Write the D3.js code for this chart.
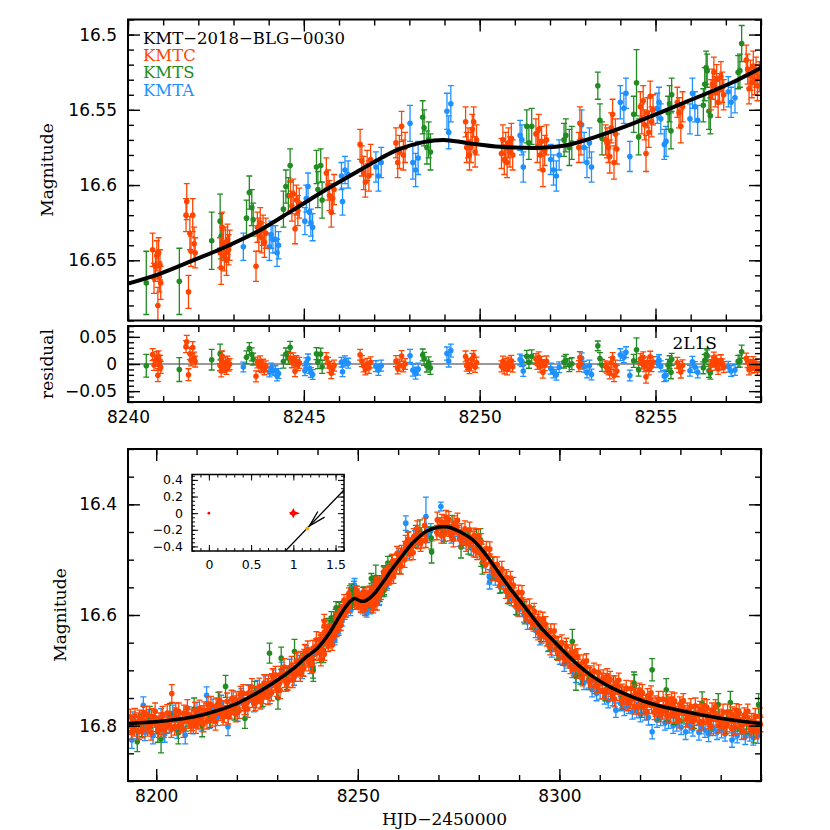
<!DOCTYPE html>
<html><head><meta charset="utf-8">
<script src="https://cdn.jsdelivr.net/npm/d3@7"></script>
<style>body{margin:0;background:#fff}</style>
</head><body>
<svg id="c" width="830" height="830" xmlns="http://www.w3.org/2000/svg"></svg>
<script>
// ---------------- DATA ----------------
const eventName = "KMT\u22122018\u2212BLG\u22120030";
const seriesNames = ["KMTC", "KMTS", "KMTA"];
const modelName = "2L1S";

const modelTop = [[8240,16.6655],[8240.9,16.659],[8241.9,16.6496],[8242.8,16.6408],[8243.75,16.630],[8244.7,16.6165],[8245.65,16.6028],[8246.6,16.590],[8247.2,16.582],[8247.73,16.576],[8248.4,16.5715],[8248.97,16.570],[8249.63,16.572],[8250.58,16.5746],[8251.2,16.5752],[8251.71,16.5752],[8252.47,16.5735],[8253.42,16.567],[8254.37,16.559],[8255.32,16.550],[8256.26,16.541],[8257.21,16.5315],[8258,16.522]];
const modelBot = [[8193,16.796],[8200,16.793],[8205,16.789],[8210,16.783],[8215,16.773],[8220,16.760],[8225,16.741],[8230,16.718],[8234,16.697],[8237,16.677],[8240,16.660],[8243,16.632],[8246,16.596],[8248,16.576],[8249.2,16.570],[8250.5,16.5745],[8251.7,16.575],[8253,16.569],[8254.5,16.558],[8256,16.543],[8257,16.533],[8258,16.522],[8260.3,16.500],[8263.6,16.470],[8266.9,16.449],[8270.2,16.441],[8272.3,16.441],[8275.2,16.449],[8278.5,16.464],[8281.8,16.4915],[8285.1,16.525],[8288.4,16.558],[8291.7,16.588],[8295,16.619],[8298.3,16.645],[8304.1,16.687],[8308.2,16.711],[8312.3,16.729],[8316.4,16.743],[8320.6,16.755],[8324.7,16.764],[8332.9,16.777],[8341.2,16.788],[8350,16.796]];

// KMTC  [HJD', mag, err]
const kmtcEarly = [[8193.58,16.784,.014],[8193.72,16.801,.015],[8193.86,16.811,.014],[8194.58,16.805,.014],[8194.72,16.782,.013],[8194.86,16.798,.015],[8195.58,16.792,.015],[8195.72,16.811,.014],[8195.86,16.786,.014],[8196.58,16.808,.014],[8196.72,16.788,.015],[8196.86,16.778,.013],[8197.58,16.779,.014],[8197.72,16.797,.014],[8197.86,16.804,.015],[8198.58,16.800,.015],[8198.72,16.812,.014],[8198.86,16.783,.014],[8199.58,16.785,.013],[8199.72,16.774,.015],[8199.86,16.797,.014],[8200.58,16.807,.014],[8200.72,16.791,.014],[8200.86,16.801,.015],[8201.58,16.780,.015],[8201.72,16.797,.014],[8201.86,16.807,.014],[8202.58,16.800,.014],[8202.72,16.777,.015],[8202.86,16.793,.013],[8203.58,16.788,.014],[8203.72,16.807,.014],[8203.86,16.742,.016],[8204.58,16.803,.014],[8204.72,16.783,.015],[8204.86,16.773,.014],[8205.58,16.774,.015],[8205.72,16.792,.014],[8205.86,16.799,.014],[8206.58,16.794,.014],[8206.72,16.806,.015],[8206.86,16.777,.014],[8207.58,16.779,.013],[8207.72,16.768,.015],[8207.86,16.791,.014],[8208.58,16.800,.014],[8208.72,16.784,.014],[8208.86,16.794,.015],[8209.58,16.773,.015],[8209.72,16.790,.014],[8209.86,16.800,.014],[8210.58,16.792,.014],[8210.72,16.769,.015],[8210.86,16.785,.013],[8211.58,16.778,.014],[8211.72,16.797,.014],[8211.86,16.772,.015],[8212.58,16.792,.014],[8212.72,16.772,.015],[8212.86,16.762,.014],[8213.58,16.762,.015],[8213.72,16.780,.014],[8213.86,16.787,.014],[8214.58,16.781,.014],[8214.72,16.793,.015],[8214.86,16.764,.014],[8215.58,16.765,.013],[8215.72,16.754,.015],[8215.86,16.777,.014],[8216.58,16.785,.014],[8216.72,16.769,.014],[8216.86,16.779,.015],[8217.58,16.756,.015],[8217.72,16.773,.014],[8217.86,16.783,.014],[8218.58,16.774,.014],[8218.72,16.751,.015],[8218.86,16.767,.013],[8219.58,16.760,.014],[8219.72,16.779,.014],[8219.86,16.754,.015],[8220.58,16.773,.014],[8220.72,16.753,.015],[8220.86,16.743,.014],[8221.58,16.741,.015],[8221.72,16.759,.014],[8221.86,16.766,.014],[8222.58,16.758,.014],[8222.72,16.770,.015],[8222.86,16.741,.014],[8223.58,16.741,.013],[8223.72,16.730,.015],[8223.86,16.753,.014],[8224.58,16.759,.014],[8224.72,16.743,.014],[8224.86,16.753,.015],[8225.58,16.729,.015],[8225.72,16.746,.014],[8225.86,16.756,.014],[8226.58,16.746,.014],[8226.72,16.723,.015],[8226.86,16.739,.013],[8227.58,16.729,.014],[8227.72,16.748,.014],[8227.86,16.723,.015],[8228.58,16.741,.014],[8228.72,16.721,.015],[8228.86,16.711,.014],[8229.58,16.708,.015],[8229.72,16.726,.014],[8229.86,16.733,.014],[8230.58,16.724,.014],[8230.72,16.736,.015],[8230.86,16.707,.014],[8231.58,16.705,.013],[8231.72,16.694,.015],[8231.86,16.717,.014],[8232.58,16.722,.014],[8232.72,16.706,.014],[8232.86,16.716,.015],[8233.58,16.690,.015],[8233.72,16.707,.014],[8233.86,16.717,.014],[8234.58,16.706,.014],[8234.72,16.683,.015],[8234.86,16.699,.013],[8235.58,16.687,.014],[8235.72,16.706,.014],[8235.86,16.681,.015],[8236.58,16.697,.014],[8236.72,16.677,.015],[8236.86,16.667,.014],[8237.58,16.662,.015],[8237.72,16.680,.014],[8237.86,16.687,.014],[8238.58,16.677,.014],[8238.72,16.689,.015],[8238.86,16.660,.014],[8239.58,16.656,.013],[8239.72,16.645,.015],[8239.86,16.668,.014]];
const kmtcAnom = [[8240.70,16.643,.011],[8240.74,16.662,.010],[8240.78,16.654,.010],[8240.82,16.647,.010],[8240.85,16.680,.012],[8240.87,16.645,.010],[8240.89,16.661,.010],[8240.91,16.653,.010],[8240.93,16.665,.011],[8241.65,16.620,.011],[8241.67,16.611,.012],[8241.72,16.671,.011],[8241.76,16.632,.011],[8241.79,16.644,.010],[8241.84,16.620,.011],[8241.88,16.639,.011],[8241.91,16.645,.010],[8242.62,16.645,.010],[8242.65,16.655,.011],[8242.68,16.628,.010],[8242.71,16.640,.010],[8242.74,16.647,.010],[8242.77,16.638,.010],[8242.80,16.650,.010],[8242.83,16.636,.010],[8242.86,16.643,.010],[8242.89,16.640,.010],[8243.64,16.654,.010],[8243.68,16.628,.010],[8243.72,16.633,.011],[8243.76,16.625,.010],[8243.80,16.635,.010],[8243.84,16.630,.010],[8243.88,16.638,.010],[8243.92,16.632,.010],[8244.62,16.607,.010],[8244.66,16.614,.010],[8244.70,16.606,.010],[8244.75,16.629,.010],[8244.79,16.610,.010],[8244.83,16.617,.010],[8244.87,16.612,.010],[8245.64,16.592,.010],[8245.69,16.600,.010],[8245.73,16.607,.010],[8245.78,16.618,.010],[8245.82,16.609,.010],[8245.86,16.603,.010],[8246.60,16.573,.010],[8246.65,16.584,.010],[8246.70,16.592,.011],[8246.75,16.598,.010],[8246.80,16.587,.010],[8246.85,16.594,.010],[8246.90,16.583,.010],[8247.62,16.572,.010],[8247.67,16.585,.010],[8247.72,16.578,.011],[8247.78,16.561,.010],[8247.83,16.580,.010],[8247.88,16.575,.010],[8249.60,16.558,.010],[8249.63,16.575,.010],[8249.67,16.572,.010],[8249.71,16.580,.010],[8249.75,16.575,.010],[8249.79,16.563,.010],[8249.83,16.558,.010],[8249.87,16.578,.010],[8249.91,16.570,.010],[8250.62,16.579,.010],[8250.66,16.570,.010],[8250.70,16.583,.010],[8250.74,16.575,.010],[8250.78,16.585,.010],[8250.82,16.572,.010],[8250.86,16.578,.010],[8250.90,16.569,.010],[8250.94,16.580,.010],[8251.60,16.566,.010],[8251.64,16.575,.010],[8251.68,16.563,.010],[8251.72,16.580,.010],[8251.76,16.571,.010],[8251.80,16.590,.011],[8251.85,16.577,.010],[8251.90,16.570,.010],[8252.82,16.575,.010],[8252.85,16.559,.011],[8252.88,16.570,.010],[8253.58,16.570,.010],[8253.62,16.572,.010],[8253.66,16.575,.010],[8253.70,16.581,.011],[8253.74,16.562,.010],[8253.78,16.553,.010],[8253.82,16.585,.011],[8253.86,16.566,.010],[8253.90,16.576,.010],[8254.57,16.548,.010],[8254.61,16.556,.010],[8254.65,16.544,.010],[8254.69,16.560,.010],[8254.73,16.579,.012],[8254.77,16.552,.010],[8254.81,16.565,.010],[8254.85,16.541,.010],[8254.89,16.558,.010],[8254.93,16.550,.010],[8255.62,16.545,.010],[8255.67,16.552,.010],[8255.72,16.561,.011],[8255.77,16.548,.010],[8256.58,16.540,.010],[8256.62,16.533,.010],[8256.66,16.525,.010],[8256.70,16.538,.010],[8256.74,16.530,.010],[8256.78,16.545,.010],[8256.82,16.536,.010],[8256.86,16.528,.010],[8256.90,16.535,.010],[8256.94,16.540,.010],[8257.58,16.517,.010],[8257.62,16.523,.010],[8257.66,16.536,.010],[8257.70,16.527,.010],[8257.74,16.532,.010],[8257.78,16.521,.010],[8257.82,16.530,.010],[8257.86,16.525,.010],[8257.90,16.534,.010],[8257.95,16.528,.010]];
const kmtcLate = [[8258.58,16.503,.013],[8258.72,16.520,.014],[8258.86,16.530,.013],[8259.58,16.512,.014],[8259.72,16.489,.013],[8259.86,16.505,.014],[8260.58,16.493,.013],[8260.72,16.512,.014],[8260.86,16.487,.013],[8261.58,16.500,.014],[8261.72,16.480,.013],[8261.86,16.470,.014],[8262.58,16.463,.013],[8262.72,16.481,.014],[8262.86,16.488,.013],[8263.58,16.475,.014],[8263.72,16.487,.013],[8263.86,16.458,.014],[8264.58,16.455,.013],[8264.72,16.444,.014],[8264.86,16.467,.013],[8265.58,16.471,.014],[8265.72,16.455,.013],[8265.86,16.465,.014],[8266.58,16.438,.013],[8266.72,16.455,.014],[8266.86,16.465,.013],[8269.58,16.451,.013],[8269.72,16.428,.014],[8269.86,16.444,.013],[8270.58,16.438,.014],[8270.72,16.457,.013],[8270.86,16.432,.014],[8271.58,16.454,.013],[8271.72,16.434,.014],[8271.86,16.424,.013],[8272.58,16.427,.014],[8272.72,16.445,.013],[8272.86,16.452,.014],[8273.58,16.451,.013],[8273.72,16.463,.014],[8273.86,16.434,.013],[8274.58,16.440,.014],[8274.72,16.429,.013],[8274.86,16.452,.014],[8275.58,16.465,.013],[8275.72,16.449,.014],[8275.86,16.459,.013],[8276.58,16.444,.014],[8276.72,16.461,.013],[8276.86,16.471,.014],[8277.58,16.469,.013],[8277.72,16.446,.014],[8277.86,16.462,.013],[8278.58,16.463,.014],[8278.72,16.482,.013],[8278.86,16.457,.014],[8279.58,16.487,.013],[8279.72,16.467,.014],[8279.86,16.457,.013],[8280.58,16.467,.014],[8280.72,16.485,.013],[8280.86,16.492,.014],[8281.58,16.497,.013],[8281.72,16.509,.014],[8281.86,16.480,.013],[8282.58,16.492,.014],[8282.72,16.481,.013],[8282.86,16.504,.014],[8283.58,16.525,.013],[8283.72,16.509,.014],[8283.86,16.519,.013],[8284.58,16.509,.014],[8284.72,16.526,.013],[8284.86,16.536,.014],[8285.58,16.540,.013],[8285.72,16.517,.014],[8285.86,16.533,.013],[8286.58,16.538,.014],[8286.72,16.557,.013],[8286.86,16.532,.014],[8287.58,16.564,.013],[8287.72,16.544,.014],[8287.86,16.534,.013],[8288.58,16.546,.014],[8288.72,16.564,.013],[8288.86,16.571,.014],[8289.58,16.576,.013],[8289.72,16.588,.014],[8289.86,16.559,.013],[8290.58,16.571,.014],[8290.72,16.560,.013],[8290.86,16.583,.014],[8291.58,16.602,.013],[8291.72,16.586,.014],[8291.86,16.596,.013],[8292.58,16.585,.014],[8292.72,16.602,.013],[8292.86,16.612,.014],[8293.58,16.616,.013],[8293.72,16.593,.014],[8293.86,16.609,.013],[8294.58,16.613,.014],[8294.72,16.632,.013],[8294.86,16.607,.014],[8295.58,16.638,.013],[8295.72,16.618,.014],[8295.86,16.608,.013],[8296.58,16.617,.014],[8296.72,16.635,.013],[8296.86,16.642,.014],[8297.58,16.646,.013],[8297.72,16.658,.014],[8297.86,16.629,.013],[8298.58,16.640,.014],[8298.72,16.629,.013],[8298.86,16.652,.014],[8299.58,16.669,.013],[8299.72,16.653,.014],[8299.86,16.663,.013],[8300.58,16.650,.014],[8300.72,16.667,.013],[8300.86,16.677,.014],[8301.58,16.679,.013],[8301.72,16.656,.014],[8301.86,16.672,.013],[8302.58,16.674,.014],[8302.72,16.693,.013],[8302.86,16.668,.014],[8303.58,16.697,.013],[8303.72,16.677,.014],[8303.86,16.667,.013],[8304.58,16.675,.014],[8304.72,16.693,.013],[8304.86,16.700,.014],[8305.58,16.702,.013],[8305.72,16.714,.014],[8305.86,16.685,.013],[8306.58,16.694,.014],[8306.72,16.683,.013],[8306.86,16.706,.014],[8307.58,16.722,.013],[8307.72,16.706,.014],[8307.86,16.716,.013],[8308.58,16.701,.014],[8308.72,16.718,.013],[8308.86,16.728,.014],[8309.58,16.727,.013],[8309.72,16.704,.014],[8309.86,16.720,.013],[8310.58,16.719,.014],[8310.72,16.738,.013],[8310.86,16.713,.014],[8311.58,16.740,.013],[8311.72,16.720,.014],[8311.86,16.710,.013],[8312.58,16.716,.014],[8312.72,16.734,.013],[8312.86,16.741,.014],[8313.58,16.740,.013],[8313.72,16.752,.014],[8313.86,16.723,.013],[8314.58,16.729,.014],[8314.72,16.718,.013],[8314.86,16.741,.014],[8315.58,16.755,.013],[8315.72,16.739,.014],[8315.86,16.749,.013],[8316.58,16.732,.014],[8316.72,16.749,.013],[8316.86,16.759,.014],[8317.58,16.756,.013],[8317.72,16.733,.014],[8317.86,16.749,.013],[8318.58,16.747,.014],[8318.72,16.766,.013],[8318.86,16.741,.014],[8319.58,16.766,.013],[8319.72,16.746,.014],[8319.86,16.736,.013],[8320.58,16.740,.014],[8320.72,16.758,.013],[8320.86,16.765,.014],[8321.58,16.763,.013],[8321.72,16.775,.014],[8321.86,16.746,.013],[8322.58,16.752,.014],[8322.72,16.741,.013],[8322.86,16.764,.014],[8323.58,16.776,.013],[8323.72,16.760,.014],[8323.86,16.770,.013],[8324.58,16.752,.014],[8324.72,16.769,.013],[8324.86,16.779,.014],[8325.58,16.775,.013],[8325.72,16.752,.014],[8325.86,16.768,.013],[8326.58,16.764,.014],[8326.72,16.783,.013],[8326.86,16.758,.014],[8327.58,16.782,.013],[8327.72,16.762,.014],[8327.86,16.752,.013],[8328.58,16.755,.014],[8328.72,16.773,.013],[8328.86,16.780,.014],[8329.58,16.778,.013],[8329.72,16.790,.014],[8329.86,16.761,.013],[8330.58,16.766,.014],[8330.72,16.755,.013],[8330.86,16.778,.014],[8331.58,16.789,.013],[8331.72,16.773,.014],[8331.86,16.783,.013],[8332.58,16.765,.014],[8332.72,16.782,.013],[8332.86,16.792,.014],[8333.58,16.787,.013],[8333.72,16.764,.014],[8333.86,16.780,.013],[8334.58,16.776,.014],[8334.72,16.795,.013],[8334.86,16.770,.014],[8335.58,16.794,.013],[8335.72,16.774,.014],[8335.86,16.764,.013],[8336.58,16.767,.014],[8336.72,16.785,.013],[8336.86,16.792,.014],[8337.58,16.789,.013],[8337.72,16.801,.014],[8337.86,16.772,.013],[8338.58,16.777,.014],[8338.72,16.766,.013],[8338.86,16.789,.014],[8339.58,16.800,.013],[8339.72,16.784,.014],[8339.86,16.794,.013],[8340.58,16.775,.014],[8340.72,16.792,.013],[8340.86,16.802,.014],[8341.58,16.798,.013],[8341.72,16.775,.014],[8341.86,16.791,.013],[8342.58,16.786,.014],[8342.72,16.805,.013],[8342.86,16.780,.014],[8343.58,16.803,.013],[8343.72,16.783,.014],[8343.86,16.773,.013],[8344.58,16.776,.014],[8344.72,16.794,.013],[8344.86,16.801,.014],[8345.58,16.798,.013],[8345.72,16.810,.014],[8345.86,16.781,.013],[8346.58,16.785,.014],[8346.72,16.774,.013],[8346.86,16.797,.014],[8347.58,16.808,.013],[8347.72,16.792,.014],[8347.86,16.802,.013],[8348.58,16.783,.014],[8348.72,16.800,.013],[8348.86,16.810,.014],[8349.58,16.805,.013],[8349.72,16.782,.014],[8349.86,16.798,.013]];

// KMTS
const kmtsEarly = [[8195.3,16.829,.018],[8196.4,16.800,.020],[8198.4,16.785,.020],[8200.4,16.810,.020],[8201.2,16.824,.025],[8203.4,16.780,.020],[8205.5,16.813,.020],[8207.4,16.790,.020],[8209.4,16.770,.020],[8211.4,16.800,.020],[8213.4,16.783,.020],[8215.4,16.760,.020],[8217.2,16.729,.020],[8219.4,16.770,.020],[8222.0,16.787,.018],[8224.4,16.740,.020],[8226.4,16.745,.020],[8228.1,16.669,.018],[8230.2,16.750,.020],[8231.0,16.678,.020],[8232.4,16.715,.020],[8234.3,16.666,.022],[8236.4,16.690,.020],[8238.9,16.694,.020],[8238.95,16.700,.020]];
const kmtsAnom = [[8240.52,16.665,.021],[8241.46,16.664,.022],[8242.38,16.637,.019],[8242.62,16.624,.018],[8242.65,16.634,.015],[8243.37,16.622,.012],[8243.45,16.605,.011],[8243.52,16.615,.012],[8243.56,16.623,.011],[8244.42,16.616,.012],[8244.49,16.601,.011],[8244.56,16.607,.012],[8244.61,16.587,.011],[8245.36,16.588,.011],[8245.40,16.603,.012],[8245.48,16.587,.011],[8245.52,16.610,.012],[8248.38,16.555,.011],[8248.42,16.562,.012],[8248.50,16.575,.011],[8248.55,16.570,.012],[8248.60,16.578,.012],[8251.34,16.561,.011],[8251.40,16.572,.011],[8251.48,16.561,.012],[8252.40,16.570,.011],[8252.45,16.567,.011],[8252.55,16.575,.012],[8252.62,16.572,.011],[8253.36,16.534,.009],[8253.42,16.557,.011],[8253.48,16.569,.011],[8254.38,16.553,.012],[8254.46,16.532,.022],[8254.52,16.568,.012],[8255.36,16.552,.011],[8255.40,16.546,.012],[8255.44,16.564,.012],[8255.46,16.540,.011],[8256.36,16.547,.011],[8256.40,16.533,.011],[8256.44,16.522,.011],[8256.47,16.524,.011],[8256.52,16.551,.012],[8256.56,16.554,.012],[8257.35,16.525,.011],[8257.40,16.524,.011],[8257.45,16.506,.012]];
const kmtsLate = [[8258.4,16.512,.020],[8260.4,16.505,.020],[8262.4,16.470,.020],[8264.4,16.458,.020],[8265.4,16.448,.020],[8268.2,16.461,.020],[8268.3,16.486,.020],[8271.4,16.450,.020],[8273.4,16.440,.020],[8275.6,16.477,.020],[8277.4,16.470,.020],[8279.4,16.465,.020],[8280.4,16.464,.020],[8280.6,16.492,.020],[8280.9,16.506,.020],[8283.4,16.515,.020],[8285.4,16.540,.020],[8287.4,16.560,.020],[8289.4,16.580,.020],[8291.4,16.596,.020],[8293.4,16.605,.020],[8295.4,16.628,.020],[8297.4,16.645,.020],[8299.4,16.660,.020],[8301.4,16.668,.020],[8303.2,16.648,.022],[8304.1,16.711,.025],[8305.4,16.705,.020],[8307.4,16.715,.020],[8309.4,16.720,.020],[8311.4,16.735,.020],[8313.4,16.730,.020],[8315.4,16.750,.020],[8318.5,16.723,.020],[8318.6,16.728,.020],[8320.4,16.765,.020],[8323.0,16.699,.020],[8324.4,16.770,.020],[8326.5,16.735,.020],[8326.6,16.772,.020],[8328.4,16.778,.020],[8330.4,16.775,.020],[8333.4,16.785,.020],[8335.4,16.759,.020],[8337.4,16.790,.020],[8339.4,16.762,.020],[8341.4,16.795,.020],[8342.4,16.758,.020],[8344.4,16.790,.020],[8346.4,16.795,.020],[8348.2,16.811,.020],[8349.4,16.762,.020]];

// KMTA
const kmtaEarly = [[8193.95,16.826,.015],[8194.2,16.790,.015],[8195.1,16.808,.016],[8196.8,16.763,.015],[8197.2,16.812,.015],[8198.1,16.787,.016],[8199.2,16.818,.015],[8200.1,16.800,.015],[8201.2,16.785,.016],[8202.1,16.815,.015],[8203.2,16.798,.015],[8204.1,16.779,.016],[8205.2,16.808,.015],[8206.1,16.795,.015],[8207.2,16.817,.016],[8208.1,16.781,.015],[8209.2,16.800,.015],[8210.1,16.774,.016],[8211.2,16.795,.015],[8212.5,16.745,.015],[8213.2,16.790,.015],[8214.1,16.768,.016],[8215.2,16.785,.015],[8216.1,16.760,.015],[8217.8,16.802,.016],[8218.2,16.771,.015],[8219.1,16.752,.015],[8220.2,16.776,.016],[8221.1,16.748,.015],[8222.2,16.765,.015],[8223.1,16.742,.016],[8224.2,16.760,.015],[8225.1,16.733,.015],[8226.2,16.752,.016],[8227.1,16.725,.015],[8228.2,16.745,.015],[8229.1,16.715,.016],[8230.2,16.735,.015],[8231.1,16.700,.015],[8232.2,16.722,.016],[8233.1,16.695,.015],[8234.2,16.712,.015],[8235.1,16.683,.016],[8236.2,16.700,.015],[8237.1,16.670,.015],[8238.2,16.690,.016],[8239.1,16.672,.015]];
const kmtaAnom = [[8243.28,16.641,.009],[8244.02,16.641,.009],[8244.07,16.633,.009],[8244.12,16.636,.009],[8244.19,16.636,.009],[8244.24,16.645,.009],[8244.28,16.640,.009],[8245.03,16.624,.009],[8245.07,16.609,.009],[8245.12,16.601,.009],[8245.16,16.618,.009],[8245.20,16.625,.009],[8245.25,16.628,.009],[8246.07,16.594,.009],[8246.10,16.611,.009],[8246.17,16.590,.009],[8246.26,16.593,.009],[8247.05,16.588,.010],[8247.12,16.594,.010],[8247.20,16.585,.010],[8248.02,16.559,.012],[8248.10,16.585,.011],[8248.18,16.590,.011],[8248.25,16.582,.011],[8249.07,16.551,.012],[8249.12,16.565,.011],[8249.18,16.546,.012],[8251.15,16.567,.010],[8251.20,16.570,.010],[8251.24,16.588,.010],[8252.02,16.583,.010],[8252.10,16.590,.010],[8252.18,16.594,.010],[8252.26,16.580,.010],[8252.90,16.560,.010],[8252.97,16.575,.010],[8253.05,16.585,.010],[8253.12,16.572,.010],[8253.18,16.588,.010],[8254.00,16.545,.011],[8254.10,16.549,.010],[8254.16,16.539,.010],[8254.27,16.581,.010],[8255.05,16.549,.010],[8255.10,16.545,.010],[8255.15,16.556,.010],[8255.25,16.573,.010],[8255.30,16.571,.010],[8255.98,16.556,.010],[8256.05,16.539,.010],[8256.12,16.548,.010],[8256.20,16.557,.010],[8257.07,16.538,.010],[8257.15,16.545,.010],[8257.26,16.542,.010]];
const kmtaLate = [[8258.1,16.525,.013],[8259.2,16.512,.013],[8260.1,16.493,.014],[8261.9,16.434,.013],[8262.2,16.485,.013],[8263.1,16.478,.014],[8264.2,16.460,.013],[8265.1,16.467,.013],[8266.9,16.422,.035],[8267.2,16.455,.014],[8268.1,16.448,.013],[8270.6,16.404,.008],[8271.2,16.452,.013],[8272.1,16.438,.014],[8273.2,16.457,.013],[8274.1,16.445,.013],[8275.2,16.462,.014],[8276.1,16.466,.013],[8277.2,16.458,.013],[8278.1,16.478,.014],[8279.2,16.483,.013],[8280.1,16.475,.013],[8281.2,16.501,.014],[8282.6,16.531,.013],[8282.7,16.540,.013],[8283.2,16.520,.014],[8284.1,16.533,.013],[8285.2,16.548,.013],[8286.1,16.545,.014],[8287.2,16.566,.013],[8288.1,16.570,.013],[8289.2,16.585,.014],[8290.1,16.590,.013],[8291.2,16.600,.013],[8292.1,16.612,.014],[8293.2,16.610,.013],[8294.1,16.628,.013],[8295.2,16.640,.014],[8296.1,16.635,.013],[8297.2,16.653,.013],[8298.1,16.662,.014],[8299.2,16.660,.013],[8300.1,16.676,.013],[8301.2,16.688,.014],[8302.1,16.683,.013],[8303.2,16.700,.013],[8304.1,16.708,.014],[8305.2,16.712,.013],[8306.1,16.722,.013],[8307.2,16.718,.014],[8308.1,16.735,.013],[8309.2,16.742,.013],[8310.1,16.738,.014],[8311.2,16.748,.013],[8312.1,16.755,.013],[8313.2,16.750,.014],[8314.0,16.772,.013],[8315.2,16.760,.013],[8316.1,16.768,.014],[8317.2,16.765,.013],[8318.1,16.775,.013],[8319.2,16.772,.014],[8320.1,16.780,.013],[8321.2,16.777,.013],[8322.1,16.785,.014],[8323.0,16.811,.013],[8324.2,16.790,.013],[8325.1,16.786,.014],[8326.2,16.795,.013],[8327.1,16.792,.013],[8328.2,16.800,.014],[8329.1,16.797,.013],[8330.2,16.803,.013],[8331.3,16.811,.014],[8332.2,16.800,.013],[8333.1,16.806,.013],[8334.6,16.812,.014],[8335.2,16.802,.013],[8336.1,16.808,.013],[8337.0,16.815,.014],[8338.2,16.805,.013],[8339.1,16.812,.013],[8340.2,16.808,.014],[8341.1,16.815,.013],[8342.8,16.826,.013],[8343.2,16.810,.014],[8344.1,16.818,.013],[8345.2,16.812,.013],[8346.1,16.820,.014],[8347.2,16.815,.013],[8348.1,16.822,.013],[8349.2,16.818,.014]];

// inset (lens plane geometry)
const lensPoints = [[0,0]];
const caustic = [[0.958,0],[0.99,0.012],[1,0.032],[1.01,0.012],[1.042,0],[1.01,-0.012],[1,-0.032],[0.99,-0.012],[0.958,0]];
const trajectory = [[0.905,-0.455],[1.62,0.300]];
const arrowHead = [[1.29,0.02],[1.19,-0.154],[1.37,-0.048]];
const sourcePos = [1.166,-0.183];

// tick labels
const topYTicks = [16.5,16.55,16.6,16.65];
const topXTicks = [8240,8245,8250,8255];
const resYTicks = [-0.05,0,0.05];
const botXTicks = [8200,8250,8300];
const botYTicks = [16.4,16.6,16.8];
const insXTicks = [0,0.5,1,1.5];
const insYTicks = [-0.4,-0.2,0,0.2,0.4];

// ---------------- DRAW ----------------
const COL = {KMTC:"#ff4500", KMTS:"#228b22", KMTA:"#1e90ff"};
const series = [
  {name:"KMTA", data:[...kmtaEarly,...kmtaAnom,...kmtaLate]},
  {name:"KMTS", data:[...kmtsEarly,...kmtsAnom,...kmtsLate]},
  {name:"KMTC", data:[...kmtcEarly,...kmtcAnom,...kmtcLate]}
];
const svg = d3.select("#c");
const fmt = d3.format("~g");

const xTop = d3.scaleLinear().domain([8240,8258]).range([128,761]);
const yTop = d3.scaleLinear().domain([16.49,16.69]).range([19.5,320.5]);
const yRes = d3.scaleLinear().domain([-0.07,0.07]).range([402,326]);
const xBot = d3.scaleLinear().domain([8193,8350]).range([128,761]);
const yBot = d3.scaleLinear().domain([16.3,16.9]).range([449,781]);
const xIn = d3.scaleLinear().domain([-0.2,1.6]).range([192,344]);
const yIn = d3.scaleLinear().domain([-0.455,0.465]).range([551,474.5]);

function axes(g, x, y, c) {
  const [xl, xr] = x.range();
  const yb = Math.max(...y.range()), yt = Math.min(...y.range());
  const side = (gen, tr, vals, size, lab, pad) => {
    const a = gen.tickValues(vals).tickSize(-size).tickPadding(pad || 0)
      .tickFormat(lab ? fmt : () => "");
    const s = g.append("g").attr("transform", tr).call(a);
    s.select(".domain").remove();
    s.attr("font-family", null).attr("font-size", null);
    s.selectAll("line").attr("stroke", "#000").attr("stroke-width", c.tw);
    s.selectAll("text").attr("fill", "#000").style("font-family", "DejaVu Sans").style("font-size", c.fs + "px");
  };
  side(d3.axisBottom(x), `translate(0,${yb})`, c.xMin, c.mn, false);
  side(d3.axisBottom(x), `translate(0,${yb})`, c.xMaj, c.mj, c.xLab, c.xPad);
  side(d3.axisTop(x), `translate(0,${yt})`, c.xMin, c.mn, false);
  side(d3.axisTop(x), `translate(0,${yt})`, c.xMaj, c.mj, false);
  side(d3.axisLeft(y), `translate(${xl},0)`, c.yMin, c.mn, false);
  side(d3.axisLeft(y), `translate(${xl},0)`, c.yMaj, c.mj, c.yLab, c.yPad);
  side(d3.axisRight(y), `translate(${xr},0)`, c.yMin, c.mn, false);
  side(d3.axisRight(y), `translate(${xr},0)`, c.yMaj, c.mj, false);
  g.append("rect").attr("x", xl).attr("y", yt).attr("width", xr - xl).attr("height", yb - yt)
    .attr("fill", "none").attr("stroke", "#000").attr("stroke-width", c.fw);
}

function points(g, data, x, y, color, yv) {
  const s = g.append("g");
  s.append("g").attr("stroke", color).attr("stroke-width", 1.3).attr("fill", "none")
    .selectAll("path").data(data).join("path")
    .attr("d", d => {
      const cx = x(d[0]), a = y(yv(d) - d[2]), b = y(yv(d) + d[2]);
      return `M${cx},${a}V${b}M${cx - 3},${a}h6M${cx - 3},${b}h6`;
    });
  s.append("g").attr("fill", color).selectAll("circle").data(data).join("circle")
    .attr("cx", d => x(d[0])).attr("cy", d => y(yv(d))).attr("r", 2.8);
}

const bis = d3.bisector(d => d[0]).left;
function modelAt(t) {
  const i = Math.max(1, Math.min(modelTop.length - 1, bis(modelTop, t)));
  const a = modelTop[i - 1], b = modelTop[i];
  return a[1] + (b[1] - a[1]) * (t - a[0]) / (b[0] - a[0]);
}

const defs = svg.append("defs");
defs.append("clipPath").attr("id", "cTop").append("rect").attr("x", 128).attr("y", 19.5).attr("width", 633).attr("height", 301);
defs.append("clipPath").attr("id", "cRes").append("rect").attr("x", 128).attr("y", 326).attr("width", 633).attr("height", 76);
defs.append("clipPath").attr("id", "cIn").append("rect").attr("x", 192).attr("y", 474.5).attr("width", 152).attr("height", 76.5);

// --- top panel
const gTop = svg.append("g").attr("clip-path", "url(#cTop)");
series.forEach(s => {
  const d = s.data.filter(p => p[0] >= 8240 && p[0] <= 8258);
  points(gTop, d, xTop, yTop, COL[s.name], p => p[1]);
});
const curve = d3.line().x(d => xTop(d[0])).y(d => yTop(d[1])).curve(d3.curveCatmullRom.alpha(0.5));
gTop.append("path").attr("d", curve(modelTop)).attr("fill", "none").attr("stroke", "#000").attr("stroke-width", 4);
axes(svg.append("g"), xTop, yTop, {xMaj: topXTicks, xMin: xTop.ticks(18), yMaj: topYTicks, yMin: yTop.ticks(20),
  mj: 12, mn: 6, tw: 1.4, fw: 2, fs: 17, xLab: false, yLab: true, yPad: 11});

// --- residual panel
const gRes = svg.append("g").attr("clip-path", "url(#cRes)");
gRes.append("line").attr("x1", 128).attr("x2", 761).attr("y1", yRes(0)).attr("y2", yRes(0))
  .attr("stroke", "#777").attr("stroke-width", 1.5);
series.forEach(s => {
  const d = s.data.filter(p => p[0] >= 8240 && p[0] <= 8258);
  points(gRes, d, xTop, yRes, COL[s.name], p => modelAt(p[0]) - p[1]);
});
axes(svg.append("g"), xTop, yRes, {xMaj: topXTicks, xMin: xTop.ticks(18), yMaj: resYTicks, yMin: yRes.ticks(14),
  mj: 12, mn: 6, tw: 1.4, fw: 2, fs: 17, xLab: true, yLab: true, xPad: 9, yPad: 11});

// --- bottom panel
const gBot = svg.append("g");
series.forEach(s => points(gBot, s.data, xBot, yBot, COL[s.name], p => p[1]));
const curveB = d3.line().x(d => xBot(d[0])).y(d => yBot(d[1])).curve(d3.curveCatmullRom.alpha(0.5));
gBot.append("path").attr("d", curveB(modelBot)).attr("fill", "none").attr("stroke", "#000").attr("stroke-width", 3.5);
axes(svg.append("g"), xBot, yBot, {xMaj: botXTicks, xMin: xBot.ticks(16), yMaj: botYTicks, yMin: yBot.ticks(12),
  mj: 12, mn: 6, tw: 1.4, fw: 2, fs: 17, xLab: true, yLab: true, xPad: 9, yPad: 11});

// --- inset
const gIn = svg.append("g");
gIn.append("rect").attr("x", 192).attr("y", 474.5).attr("width", 152).attr("height", 76.5).attr("fill", "#fff");
const gInC = gIn.append("g").attr("clip-path", "url(#cIn)");
const ln = d3.line().x(d => xIn(d[0])).y(d => yIn(d[1]));
gInC.append("path").attr("d", ln(trajectory)).attr("stroke", "#000").attr("stroke-width", 1.3).attr("fill", "none");
gInC.append("path").attr("d", ln(arrowHead)).attr("stroke", "#000").attr("stroke-width", 1.3).attr("fill", "none");
gInC.append("path").attr("d", ln(caustic)).attr("stroke", "#ff0000").attr("stroke-width", 2.2).attr("fill", "none");
gInC.selectAll("circle.lens").data(lensPoints).join("circle").attr("class", "lens")
  .attr("cx", d => xIn(d[0])).attr("cy", d => yIn(d[1])).attr("r", 1.4).attr("fill", "#ff0000");
gInC.append("circle").attr("cx", xIn(sourcePos[0])).attr("cy", yIn(sourcePos[1])).attr("r", 2).attr("fill", "#ffa500");
axes(gIn, xIn, yIn, {xMaj: insXTicks, xMin: xIn.ticks(18), yMaj: insYTicks, yMin: yIn.ticks(18),
  mj: 6, mn: 3, tw: 1, fw: 1.5, fs: 12.5, xLab: true, yLab: true, xPad: 9.5, yPad: 9});

// --- texts
const serif = "DejaVu Serif";
const txt = (x, y, s, o = {}) => svg.append("text").attr("x", x).attr("y", y).text(s)
  .style("font-family", serif).style("font-size", (o.fs || 17) + "px")
  .attr("fill", o.fill || "#000").attr("text-anchor", o.anchor || "start")
  .attr("transform", o.rot ? `rotate(-90,${x},${y})` : null);
txt(143, 44, eventName, {fs: 16.5});
txt(143, 61.3, seriesNames[0], {fill: COL.KMTC, fs: 16.5});
txt(143, 78.4, seriesNames[1], {fill: COL.KMTS, fs: 16.5});
txt(143, 96, seriesNames[2], {fill: COL.KMTA, fs: 16.5});
txt(717, 349, modelName, {anchor: "end"});
txt(53, 170, "Magnitude", {rot: true, anchor: "middle"});
txt(53, 364, "residual", {rot: true, anchor: "middle"});
txt(66, 615, "Magnitude", {rot: true, anchor: "middle"});
txt(444.5, 825, "HJD\u22122450000", {anchor: "middle"});
</script>
</body></html>
